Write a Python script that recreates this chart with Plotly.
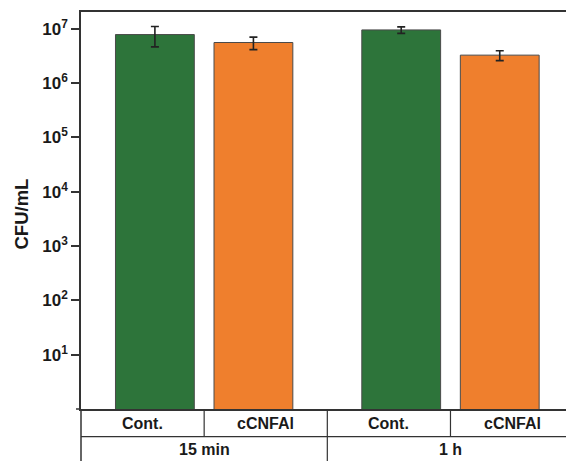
import plotly.graph_objects as go

# Sampling times (outer category) and treatments (inner category)
times = ["15 min", "1 h"]
treatments = ["Cont.", "cCNFAl"]

# Viable counts (CFU/mL) and standard deviations, per treatment across times
cont_mean = [7.85e6, 9.55e6]
cont_sd = [3.2e6, 1.3e6]
ccnfal_mean = [5.6e6, 3.28e6]
ccnfal_sd = [1.45e6, 0.68e6]

# Log-axis tick positions and their labels
tick_exps = [1, 2, 3, 4, 5, 6, 7]
tick_vals = [10 ** e for e in tick_exps]
tick_text = [f"<b>10<sup>{e}</sup></b>" for e in tick_exps]

GREEN = "#2d743a"
ORANGE = "#ef7f2d"
LINE = "#333333"
FONT = "Arial, Liberation Sans, sans-serif"

W, H = 566, 461
M_L, M_R, M_T, M_B = 81, 0, 12, 52
X_RANGE = [-0.5, 1.469]


def xp(x):
    """Category-axis coordinate -> paper fraction."""
    return (x - X_RANGE[0]) / (X_RANGE[1] - X_RANGE[0])


def yp(py):
    """Pixel row -> paper fraction."""
    return (H - M_B - py) / (H - M_T - M_B)


fig = go.Figure()
fig.add_trace(go.Bar(
    x=times, y=cont_mean, name=treatments[0],
    marker=dict(color=GREEN, line=dict(color="#4a4a4a", width=1)),
    error_y=dict(type="data", array=cont_sd, color="#222222", thickness=1.6, width=4),
))
fig.add_trace(go.Bar(
    x=times, y=ccnfal_mean, name=treatments[1],
    marker=dict(color=ORANGE, line=dict(color="#4a4a4a", width=1)),
    error_y=dict(type="data", array=ccnfal_sd, color="#222222", thickness=1.6, width=4),
))

# Category table beneath the axis
row_div = yp(436.7)
bottom = yp(470)
shapes = [
    # extension of the baseline past the y-axis
    dict(type="line", xref="paper", yref="paper", x0=-5 / (W - M_L - M_R), x1=0, y0=0, y1=0,
         line=dict(color=LINE, width=1.5)),
    # left edge of the table
    dict(type="line", xref="paper", yref="paper", x0=0, x1=0, y0=0, y1=bottom,
         line=dict(color=LINE, width=1.5)),
    # row divider
    dict(type="line", xref="paper", yref="paper", x0=0, x1=1.05, y0=row_div, y1=row_div,
         line=dict(color=LINE, width=1.2)),
    # divider between the two time groups
    dict(type="line", xref="paper", yref="paper", x0=xp(0.5), x1=xp(0.5), y0=0, y1=bottom,
         line=dict(color=LINE, width=1.2)),
]
for gx in (0, 1):
    shapes.append(dict(type="line", xref="paper", yref="paper", x0=xp(gx), x1=xp(gx),
                       y0=0, y1=row_div, line=dict(color=LINE, width=1.2)))

label_font = dict(size=16, family=FONT, color="#1a1a1a")
annotations = []
for gi, t in enumerate(times):
    for ti, tr in enumerate(treatments):
        cx = gi - 0.25 + 0.5 * ti
        annotations.append(dict(text=f"<b>{tr}</b>", xref="paper", yref="paper",
                                x=xp(cx), y=yp(423), xanchor="center", yanchor="middle",
                                showarrow=False, font=label_font))
    annotations.append(dict(text=f"<b>{t}</b>", xref="paper", yref="paper",
                            x=xp(gi), y=yp(450), xanchor="center", yanchor="middle",
                            showarrow=False, font=label_font))

annotations.append(dict(text="<b>CFU/mL</b>", xref="paper", yref="paper",
                        x=(21.5 - M_L) / (W - M_L - M_R), y=yp(214), textangle=-90,
                        xanchor="center", yanchor="middle",
                        showarrow=False, font=dict(size=18.5, family=FONT, color="#1a1a1a")))

fig.update_layout(
    width=W, height=H,
    margin=dict(l=M_L, r=M_R, t=M_T, b=M_B),
    paper_bgcolor="white", plot_bgcolor="white",
    barmode="group", bargap=0.2, bargroupgap=0.2,
    showlegend=False,
    font=dict(family=FONT, color="#1a1a1a"),
    shapes=shapes, annotations=annotations,
    xaxis=dict(type="category", range=X_RANGE, showticklabels=False, ticks="",
               showline=True, mirror=True, linecolor=LINE, linewidth=1.5,
               showgrid=False, zeroline=False),
    yaxis=dict(type="log", range=[0, 7.31], tickvals=tick_vals, ticktext=tick_text,
               ticks="outside", ticklen=8, tickwidth=1.5, tickcolor=LINE,
               showline=True, linecolor=LINE, linewidth=1.5,
               showgrid=False, zeroline=False,
               tickfont=dict(size=17, family=FONT, color="#1a1a1a")),
)

fig.write_html("out.html")
